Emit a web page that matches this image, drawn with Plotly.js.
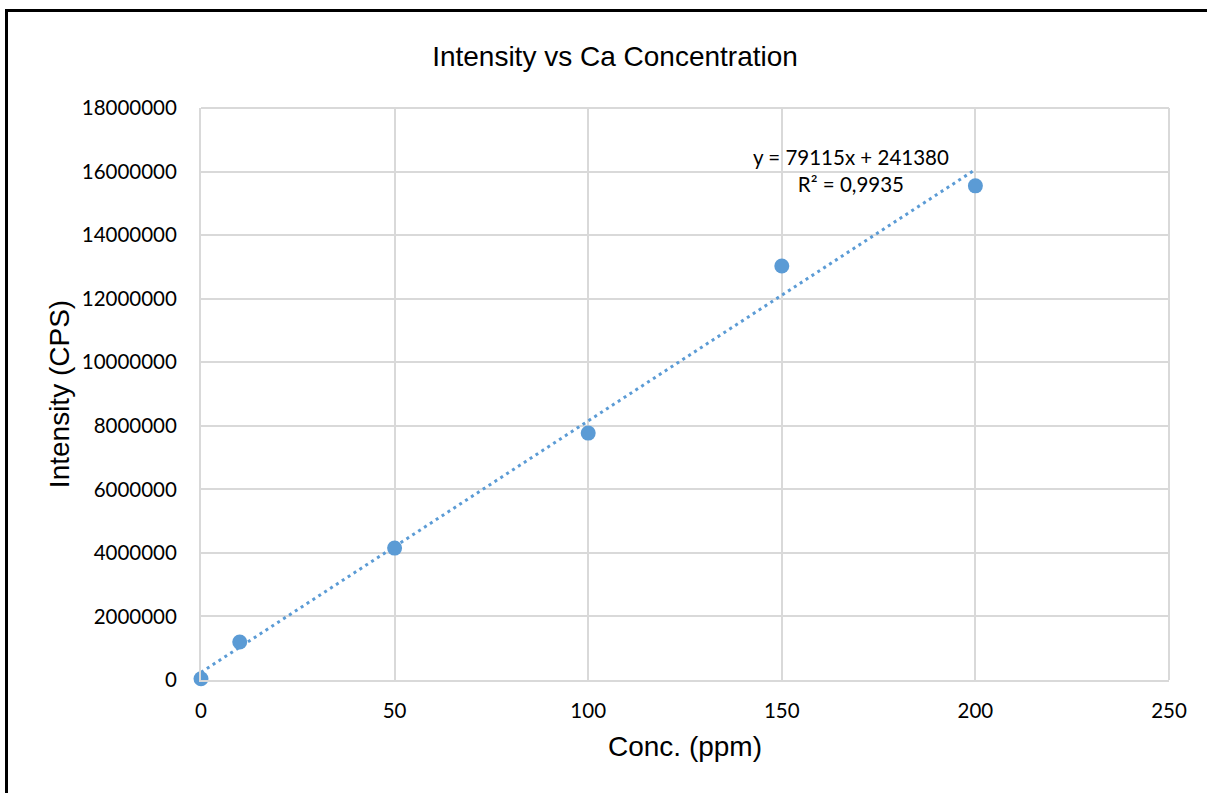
<!DOCTYPE html>
<html>
<head>
<meta charset="utf-8">
<script src="https://cdn.plot.ly/plotly-3.0.1.min.js"></script>
<style>
  html, body { margin: 0; padding: 0; background: #fff; overflow: hidden; }
  #chart { width: 1207px; height: 793px; position: absolute; left: 0; top: 0; }
  #frame { position: absolute; left: 5px; top: 9px; width: 1300px; height: 900px;
           border-left: 3px solid #000; border-top: 3px solid #000; pointer-events: none; }
</style>
</head>
<body>
<div id="chart"></div>
<div id="frame"></div>
<script>
// Data
const concentration = [0, 10, 50, 100, 150, 200];
const intensity = [40000, 1195000, 4150000, 7770000, 13030000, 15550000];
// Trendline shown on the chart: y = 79115x + 241380
const trendSlope = 79115;
const trendIntercept = 241380;
const trendX = [0, 200];
const trendY = trendX.map(x => trendSlope * x + trendIntercept);
const xTicks = [0, 50, 100, 150, 200, 250];
const yTicks = [0, 2000000, 4000000, 6000000, 8000000, 10000000, 12000000, 14000000, 16000000, 18000000];

const blue = '#5B9BD5';
const tickFont = { family: 'Lato, "Open Sans", sans-serif', size: 20.5, color: '#000' };
const titleFont = { family: '"Liberation Sans", Arial, sans-serif', size: 28, color: '#000' };

const traces = [
  {
    x: trendX, y: trendY, type: 'scatter', mode: 'lines',
    line: { color: blue, width: 3, dash: '3px,4px' },
    hoverinfo: 'skip', showlegend: false, cliponaxis: false
  },
  {
    x: concentration, y: intensity, type: 'scatter', mode: 'markers',
    marker: { color: blue, size: 15 },
    showlegend: false, cliponaxis: false
  }
];

const layout = {
  width: 1207, height: 793,
  margin: { l: 201, r: 38, t: 108, b: 113 },
  paper_bgcolor: '#fff', plot_bgcolor: '#fff',
  title: {
    text: 'Intensity vs Ca Concentration',
    font: titleFont,
    x: 615 / 1207, xref: 'container', xanchor: 'center',
    y: 1 - 56 / 793, yref: 'container', yanchor: 'middle'
  },
  xaxis: {
    range: [0, 250], tickvals: xTicks, ticktext: xTicks.map(String),
    showgrid: true, gridcolor: '#D9D9D9', gridwidth: 2,
    zeroline: false, showline: true, linecolor: '#D9D9D9', linewidth: 2, mirror: false,
    ticks: 'outside', ticklen: 11, tickcolor: 'rgba(0,0,0,0)',
    tickfont: tickFont,
    title: { text: 'Conc. (ppm)', font: titleFont, standoff: 16 },
    automargin: false
  },
  yaxis: {
    range: [0, 18000000], tickvals: yTicks, ticktext: yTicks.map(String),
    showgrid: true, gridcolor: '#D9D9D9', gridwidth: 2,
    zeroline: false, showline: true, linecolor: '#D9D9D9', linewidth: 2,
    ticks: 'outside', ticklen: 18, tickcolor: 'rgba(0,0,0,0)',
    tickfont: tickFont,
    title: { text: 'Intensity (CPS)', font: titleFont, standoff: 4 },
    automargin: false
  },
  shapes: [
    { type: 'line', xref: 'paper', yref: 'paper', x0: 1, x1: 1, y0: 0, y1: 1,
      line: { color: '#D9D9D9', width: 2 }, layer: 'below' },
    { type: 'line', xref: 'paper', yref: 'paper', x0: 0, x1: 1, y0: 1, y1: 1,
      line: { color: '#D9D9D9', width: 2 }, layer: 'below' }
  ],
  annotations: [
    {
      x: 167.9, y: 16020000, xref: 'x', yref: 'y',
      text: 'y = 79115x + 241380<br>R² = 0,9935',
      showarrow: false, align: 'center', xanchor: 'center', yanchor: 'middle',
      font: { family: 'Lato, "Open Sans", sans-serif', size: 20.5, color: '#000' }
    }
  ]
};

Plotly.newPlot('chart', traces, layout, { displayModeBar: false, staticPlot: true });
</script>
</body>
</html>
